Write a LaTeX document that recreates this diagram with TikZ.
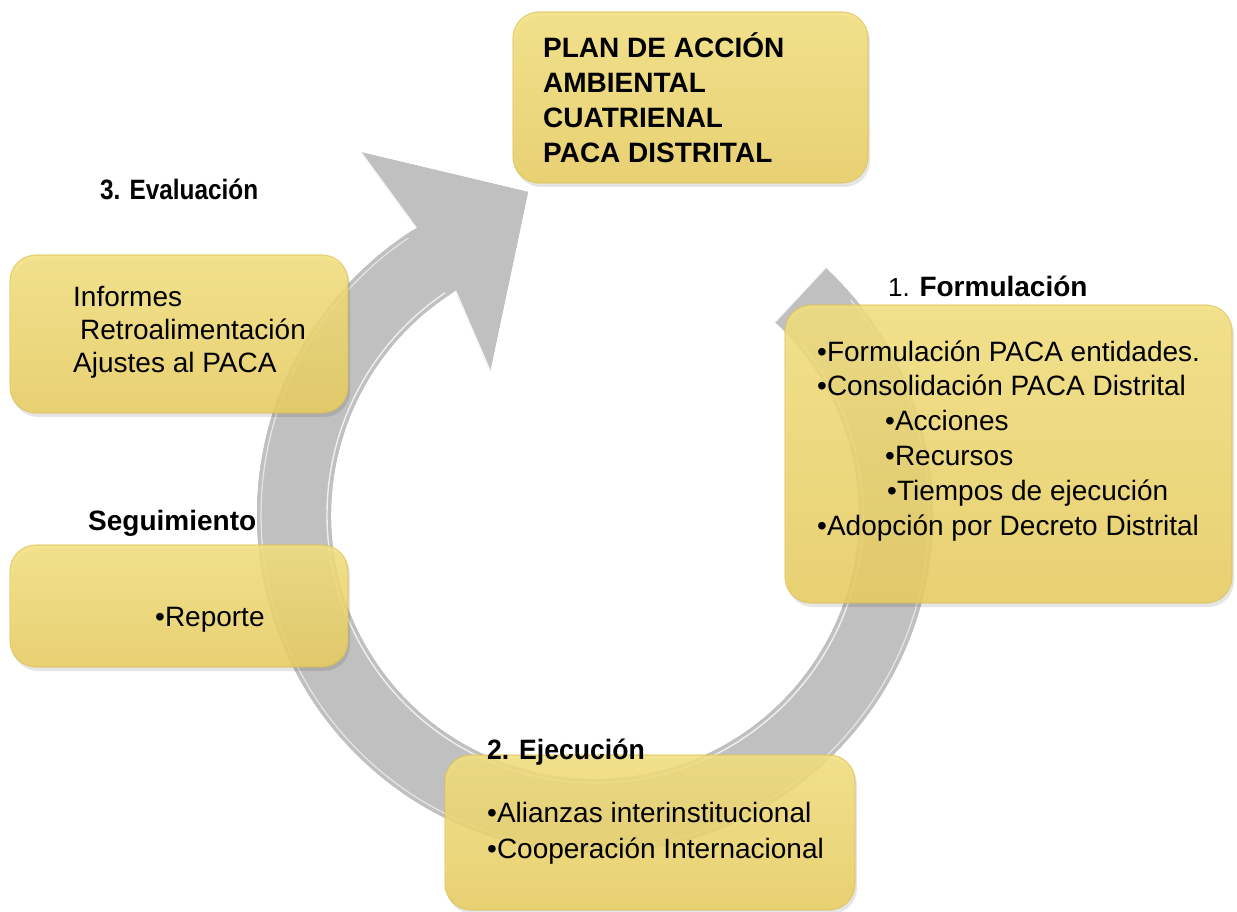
\documentclass[tikz,border=0pt]{standalone}
\usepackage{fontspec}
\setmainfont{Liberation Sans}
\usepackage{graphicx}
\usetikzlibrary{shadows}
\definecolor{ringgray}{RGB}{192,192,192}
\definecolor{boxtop}{RGB}{243,224,126}
\definecolor{boxbot}{RGB}{233,206,96}
\definecolor{boxedge}{RGB}{218,190,80}
\begin{document}
\begin{tikzpicture}[x=1pt,y=1pt,
  box/.style={rectangle, rounded corners=26pt, draw=boxedge, line width=1.2pt,
    top color=boxtop, bottom color=boxbot, fill opacity=0.86, draw opacity=0.6,
    inner sep=0pt,
    drop shadow={shadow xshift=2pt, shadow yshift=-4pt, opacity=0.10, fill=black}},
  txt/.style={anchor=base west, inner sep=0pt, font=\fontsize{28}{35}\selectfont},
  hd/.style={anchor=base west, inner sep=0pt, font=\fontsize{28}{35}\selectfont\bfseries}]
\fill[white] (0,0) rectangle (1237,912);
\useasboundingbox (0,0) rectangle (1237,912);

% ---- circular arrow ----
\coordinate (C) at (595,397);
\coordinate (ob) at (360,760);
\coordinate (tip) at (528,720);
\coordinate (ib) at (490,540);
\coordinate (on) at ([shift={(-238:338)}]C);
\coordinate (in) at ([shift={(-238:264)}]C);
\coordinate (to) at ([shift={(47:338)}]C);
\coordinate (ti) at ([shift={(47:264)}]C);
\def\ringpath{(to) arc[start angle=47,end angle=-238,radius=338] -- (ob) -- (tip) -- (ib) -- (in) arc[start angle=-238,end angle=47,radius=264] -- cycle}
\foreach \dx/\dy/\op in {-4/-3/0.05,-8/-5/0.05,-12/-7/0.05,-16/-9/0.05,-20/-11/0.05,-24/-13/0.04,-28/-15/0.03}{
  \fill[black, opacity=\op, shift={(\dx,\dy)}] \ringpath;
}
\fill[ringgray] \ringpath;
\draw[white, line width=1.4pt, opacity=0.75]
  ([shift={(40:268)}]C) arc[start angle=40,end angle=-236,radius=268];
\draw[white, line width=1.2pt, opacity=0.6]
  ([shift={(40:334)}]C) arc[start angle=40,end angle=-236,radius=334];
\draw[white, line width=2.5pt, opacity=0.85] (ob) -- (on);
\draw[white, line width=2.5pt, opacity=0.85] (in) -- (ib);
\draw[white, line width=1.5pt, opacity=0.8] (ti) -- (to);

% ---- boxes ----
\node[box, minimum width=355pt, minimum height=171pt] (plan) at (690.5,814.5) {};
\node[box, minimum width=338pt, minimum height=158pt] (eval) at (179,578) {};
\node[box, minimum width=447pt, minimum height=298pt] (form) at (1008.5,458) {};
\node[box, minimum width=338pt, minimum height=122pt] (segu) at (179,306) {};
\node[box, minimum width=410pt, minimum height=155pt] (ejec) at (650,79.5) {};

% ---- box texts ----
\foreach \t/\yy [count=\i] in {PLAN DE ACCIÓN/854, AMBIENTAL/819, CUATRIENAL/784, PACA DISTRITAL/749}
  \node[hd] (plan\i) at (543,\yy) {\t};

\node[txt] (ev1) at (73,605) {Informes};
\node[txt] (ev2) at (80,572) {Retroalimentación};
\node[txt] (ev3) at (73,539) {Ajustes al PACA};

\node[txt] (fo1) at (817,550) {•Formulación PACA entidades.};
\node[txt] (fo2) at (817,516) {•Consolidación PACA Distrital};
\node[txt] (fo3) at (885,481) {•Acciones};
\node[txt] (fo4) at (885,446) {•Recursos};
\node[txt] (fo5) at (887,411) {•Tiempos de ejecución};
\node[txt] (fo6) at (817,376) {•Adopción por Decreto Distrital};

\node[txt] (se1) at (155,285) {•Reporte};

\node[txt] (ej1) at (487,89) {•Alianzas interinstitucional};
\node[txt] (ej2) at (487,53) {•Cooperación Internacional};

% ---- headings ----
\node[hd] (hev) at (100,712) {\scalebox{0.87}[1]{3. Evaluación}};
\node[txt] (hfo) at (888,615) {\fontsize{26}{30}\selectfont 1. \fontsize{28}{35}\selectfont\textbf{Formulación}};
\node[hd] (hse) at (88,381) {Seguimiento};
\node[hd] (hej) at (487,152) {\scalebox{0.95}[1]{2. Ejecución}};
\end{tikzpicture}
\end{document}
